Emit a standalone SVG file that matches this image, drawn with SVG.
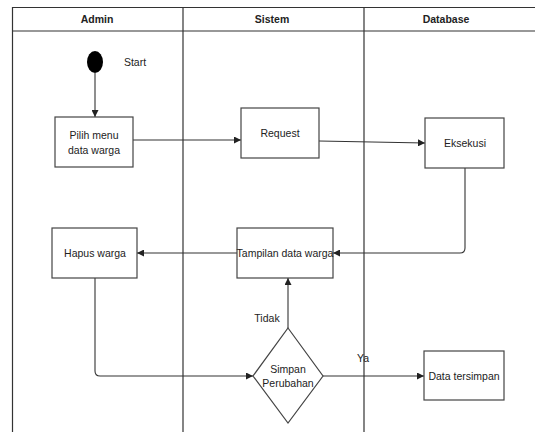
<svg xmlns="http://www.w3.org/2000/svg" width="535" height="432" viewBox="0 0 535 432">
<defs>
<style>
text{font-family:"Liberation Sans",Arial,sans-serif;font-size:10.5px;fill:#222;text-anchor:middle}
.hd{font-weight:bold;font-size:10.5px}
.box{fill:#fff;stroke:#444;stroke-width:1.2}
.ln{fill:none;stroke:#333;stroke-width:1.2}
.edge{fill:none;stroke:#333;stroke-width:1.1}
</style>
<marker id="ah" viewBox="0 0 10 10" refX="10" refY="5" markerWidth="7" markerHeight="7" orient="auto" markerUnits="userSpaceOnUse">
<path d="M0,0 L10,5 L0,10 z" fill="#222"/>
</marker>
</defs>
<rect width="535" height="432" fill="#fff"/>
<g id="pool">
<line class="ln" x1="12" y1="7.5" x2="535" y2="7.5"/>
<line class="ln" x1="12" y1="31" x2="535" y2="31"/>
<line class="ln" x1="12.5" y1="7" x2="12.5" y2="432"/>
<line class="ln" x1="183" y1="7" x2="183" y2="432"/>
<line class="ln" x1="364" y1="7" x2="364" y2="432"/>
<text class="hd" x="97" y="23">Admin</text>
<text class="hd" x="272" y="23">Sistem</text>
<text class="hd" x="446" y="23">Database</text>
</g>
<g id="connectors">
<line class="edge" x1="95" y1="73" x2="95" y2="117" marker-end="url(#ah)"/>
<line class="edge" x1="133" y1="140" x2="241" y2="140" marker-end="url(#ah)"/>
<line class="edge" x1="319" y1="141" x2="425" y2="143" marker-end="url(#ah)"/>
<path class="edge" d="M465,168 V248 Q465,253 460,253 H333" marker-end="url(#ah)"/>
<line class="edge" x1="237" y1="253" x2="137" y2="253" marker-end="url(#ah)"/>
<path class="edge" d="M95,278 V371 Q95,376 100,376 H253" marker-end="url(#ah)"/>
<line class="edge" x1="288" y1="328" x2="288" y2="278" marker-end="url(#ah)"/>
<line class="edge" x1="323" y1="376" x2="424" y2="376" marker-end="url(#ah)"/>
<text x="267" y="322">Tidak</text>
<text x="363" y="362">Ya</text>
</g>
<g id="start">
<ellipse cx="95" cy="62" rx="8" ry="11" fill="#000"/>
<text x="135" y="66">Start</text>
</g>
<g id="pilih">
<rect class="box" x="55" y="117" width="78" height="50"/>
<text x="94" y="139">Pilih menu</text>
<text x="94" y="154">data warga</text>
</g>
<g id="request">
<rect class="box" x="241" y="108" width="78" height="50"/>
<text x="280" y="137">Request</text>
</g>
<g id="eksekusi">
<rect class="box" x="425" y="118" width="79" height="50"/>
<text x="465" y="147">Eksekusi</text>
</g>
<g id="tampilan">
<rect class="box" x="237" y="228" width="96" height="50"/>
<text x="285" y="257">Tampilan data warga</text>
</g>
<g id="hapus">
<rect class="box" x="52" y="228" width="85" height="50"/>
<text x="95" y="257">Hapus warga</text>
</g>
<g id="simpan">
<polygon class="box" points="288,328 323,376 288,423 253,376"/>
<text x="288" y="373">Simpan</text>
<text x="288" y="387">Perubahan</text>
</g>
<g id="tersimpan">
<rect class="box" x="424" y="351" width="80" height="49"/>
<text x="464" y="380">Data tersimpan</text>
</g>
</svg>
